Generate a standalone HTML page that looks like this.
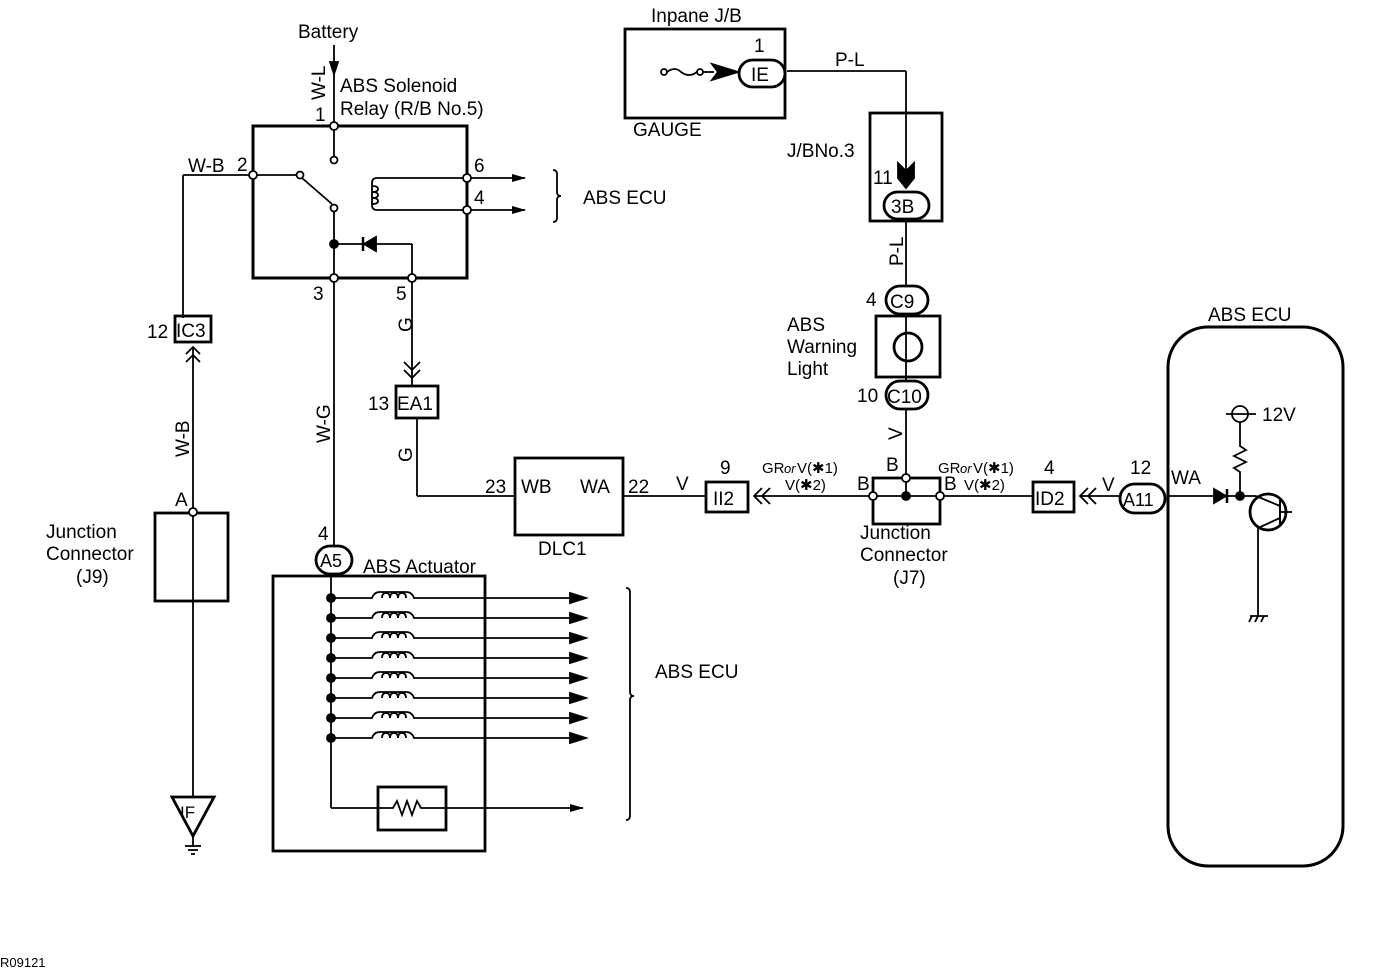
<!DOCTYPE html>
<html><head><meta charset="utf-8"><style>
html,body{margin:0;padding:0;background:#fff;}
svg{display:block;}
text{font-family:"Liberation Sans",sans-serif;fill:#000;}
</style></head><body>
<svg width="1376" height="970" viewBox="0 0 1376 970" xmlns="http://www.w3.org/2000/svg">
<defs>
<marker id="ar" markerWidth="14" markerHeight="10" refX="13" refY="5" orient="auto" markerUnits="userSpaceOnUse"><path d="M0,1 L14,5 L0,9 Z" fill="#000"/></marker>
</defs>
<g stroke="#000" fill="none" stroke-width="1.8">
<line x1="334" y1="45" x2="334" y2="122"/>
<path d="M330,62 L334,74 L338,62 Z" fill="#000"/>
<rect x="253" y="126" width="214" height="152" stroke-width="3"/>
<line x1="334" y1="130" x2="334" y2="156"/>
<circle cx="334" cy="160" r="3.5" fill="#fff"/>
<line x1="257" y1="175" x2="296" y2="175"/>
<circle cx="300" cy="175" r="3.5" fill="#fff"/>
<line x1="302" y1="178" x2="332" y2="204"/>
<circle cx="334" cy="208" r="3.5" fill="#fff"/>
<line x1="334" y1="212" x2="334" y2="274"/>
<circle cx="334" cy="244" r="4" fill="#000"/>
<line x1="334" y1="244" x2="412" y2="244"/>
<path d="M364,244 L376,237 L376,251 Z" fill="#000"/>
<line x1="363" y1="237" x2="363" y2="251" stroke-width="2.5"/>
<line x1="412" y1="244" x2="412" y2="274"/>
<path d="M463,178 L377,178 Q372,178 372,183 L372,205 Q372,210 377,210 L463,210"/>
<path d="M372,186 q6,0 6,3 q0,3 -6,3 q6,0 6,3 q0,3 -6,3 q6,0 6,3 q0,3 -6,3"/>
<line x1="471" y1="178" x2="525" y2="178" marker-end="url(#ar)"/>
<line x1="471" y1="210" x2="525" y2="210" marker-end="url(#ar)"/>
<path d="M553,170 q4,0 4,4 v18 q0,4 4,4 q-4,0 -4,4 v18 q0,4 -4,4"/>
<g fill="#fff">
<circle cx="334" cy="126" r="4"/><circle cx="253" cy="175" r="4"/>
<circle cx="467" cy="178" r="4"/><circle cx="467" cy="210" r="4"/>
<circle cx="334" cy="278" r="4"/><circle cx="412" cy="278" r="4"/>
</g>
<line x1="249" y1="175" x2="183" y2="175"/>
<line x1="183" y1="175" x2="183" y2="318"/>
<rect x="175" y="316" width="36" height="26" stroke-width="2.8"/>
<path d="M186,354 L193,347 L200,354 M186,362 L193,355 L200,362"/>
<line x1="193" y1="348" x2="193" y2="508"/>
<rect x="155" y="513" width="73" height="88" stroke-width="2.8"/>
<line x1="193" y1="516" x2="193" y2="797"/>
<circle cx="193" cy="512" r="4" fill="#fff"/>
<path d="M172,797 L214,797 L193,836 Z" stroke-width="2.8"/>
<line x1="193" y1="836" x2="193" y2="846"/>
<line x1="185" y1="846" x2="201" y2="846"/><line x1="188" y1="850" x2="198" y2="850"/><line x1="191" y1="854" x2="195" y2="854"/>
<line x1="334" y1="282" x2="334" y2="546"/>
<rect x="316" y="546" width="36" height="28" rx="14" stroke-width="2.8"/>
<rect x="273" y="576" width="212" height="275" stroke-width="2.8"/>
<line x1="331" y1="574" x2="331" y2="808"/>
<line x1="331" y1="808" x2="378" y2="808"/>
<rect x="378" y="787" width="68" height="43" stroke-width="2.8"/>
<path d="M378,808 L393,808 L397,801 L402,815 L407,801 L412,815 L417,801 L421,808 L446,808"/>
<line x1="446" y1="808" x2="583" y2="808" marker-end="url(#ar)"/>
<path d="M626,588 q4,0 4,4 v100 q0,4 4,4 q-4,0 -4,4 v116 q0,4 -4,4"/>
<line x1="412" y1="282" x2="412" y2="386"/>
<path d="M404,362 L412,370 L420,362 M404,370 L412,378 L420,370"/>
<rect x="396" y="386" width="42" height="32" stroke-width="2.8"/>
<line x1="417" y1="418" x2="417" y2="496"/>
<line x1="417" y1="496" x2="515" y2="496"/>
<rect x="515" y="458" width="108" height="77" stroke-width="2.8"/>
<line x1="623" y1="496" x2="706" y2="496"/>
<rect x="706" y="482" width="42" height="30" stroke-width="2.8"/>
<path d="M762,488 L754,496 L762,504 M770,488 L762,496 L770,504"/>
<line x1="754" y1="496" x2="870" y2="496"/>
<rect x="873" y="478" width="67" height="46" stroke-width="2.8"/>
<line x1="877" y1="496" x2="936" y2="496"/>
<line x1="906" y1="478" x2="906" y2="496"/>
<circle cx="906" cy="496" r="4" fill="#000"/>
<circle cx="873" cy="496" r="4" fill="#fff"/><circle cx="940" cy="496" r="4" fill="#fff"/>
<line x1="906" y1="408" x2="906" y2="474"/>
<circle cx="906" cy="478" r="4" fill="#fff"/>
<line x1="944" y1="496" x2="1033" y2="496"/>
<rect x="1033" y="482" width="41" height="30" stroke-width="2.8"/>
<path d="M1088,488 L1080,496 L1088,504 M1096,488 L1088,496 L1096,504"/>
<line x1="1080" y1="496" x2="1120" y2="496"/>
<rect x="1120" y="484" width="45" height="29" rx="14.5" stroke-width="2.8"/>
<rect x="1168" y="327" width="175" height="539" rx="40" stroke-width="3"/>
<line x1="1168" y1="496" x2="1240" y2="496"/>
<path d="M1214,489 L1226,496 L1214,503 Z" fill="#000"/>
<line x1="1227" y1="489" x2="1227" y2="503" stroke-width="2.5"/>
<circle cx="1240" cy="496" r="4" fill="#000"/>
<line x1="1240" y1="496" x2="1256" y2="496"/>
<circle cx="1268" cy="512" r="18" stroke-width="2.8"/>
<line x1="1280" y1="500" x2="1280" y2="524" stroke-width="2"/>
<line x1="1280" y1="512" x2="1292" y2="512"/>
<line x1="1256" y1="496" x2="1280" y2="506"/>
<line x1="1280" y1="518" x2="1258" y2="528"/>
<line x1="1258" y1="528" x2="1258" y2="616"/>
<line x1="1250" y1="616" x2="1268" y2="616"/>
<path d="M1252,616 l-3,6 M1258,616 l-3,6 M1264,616 l-3,6"/>
<line x1="1240" y1="496" x2="1240" y2="478"/>
<path d="M1240,478 L1240,472 L1234,468 L1246,462 L1234,456 L1246,450 L1240,446 L1240,422"/>
<circle cx="1240" cy="414" r="8"/>
<line x1="1226" y1="414" x2="1256" y2="414"/>
<rect x="625" y="29" width="160" height="89" stroke-width="2.8"/>
<circle cx="664" cy="72" r="3"/><circle cx="700" cy="72" r="3"/>
<path d="M667,72 q8,-6 14,0 q8,6 16,0"/>
<line x1="703" y1="72" x2="714" y2="72"/>
<path d="M712,64 L738,72 L712,80 L718,72 Z" fill="#000"/>
<rect x="739" y="60" width="46" height="27" rx="13.5" stroke-width="2.8"/>
<line x1="787" y1="71" x2="906" y2="71"/>
<line x1="906" y1="71" x2="906" y2="186"/>
<rect x="870" y="113" width="72" height="108" stroke-width="2.8"/>
<path d="M898,163 L906,171 L914,163 L914,178 L906,188 L898,178 Z" fill="#000"/>
<rect x="884" y="192" width="45" height="27" rx="13.5" stroke-width="2.8"/>
<line x1="906" y1="221" x2="906" y2="285"/>
<rect x="886" y="286" width="42" height="28" rx="14" stroke-width="2.8"/>
<rect x="876" y="316" width="64" height="61" stroke-width="2.8"/>
<line x1="906" y1="314" x2="906" y2="382"/>
<circle cx="908" cy="347" r="14" stroke-width="2.8"/>
<rect x="886" y="381" width="42" height="28" rx="14" stroke-width="2.8"/>
</g>
<g stroke="#000" fill="none" stroke-width="1.8">
<g id="row">
<circle cx="331" cy="598" r="4" fill="#000"/>
<path d="M331,598 L372,598 q2,-6 8,-6 h26 q6,0 8,6 L583,598"/>
<path d="M382,598 q0,-5 4,-5 q4,0 4,5 q0,-5 4,-5 q4,0 4,5 q0,-5 4,-5 q4,0 4,5"/>
<path d="M570,593 L586,598 L570,603 Z" fill="#000"/>
</g>
<use href="#row" y="20"/><use href="#row" y="40"/><use href="#row" y="60"/>
<use href="#row" y="80"/><use href="#row" y="100"/><use href="#row" y="120"/><use href="#row" y="140"/>
</g>
<g font-size="19">
<text x="298" y="38">Battery</text>
<text x="340" y="92">ABS Solenoid</text>
<text x="340" y="115">Relay  (R/B No.5)</text>
<text x="315" y="121">1</text>
<text x="237" y="171">2</text>
<text x="188" y="172">W-B</text>
<text x="474" y="172">6</text>
<text x="474" y="204">4</text>
<text x="583" y="204">ABS ECU</text>
<text x="313" y="300">3</text>
<text x="396" y="300">5</text>
<text x="147" y="338">12</text>
<text x="176" y="337" font-size="19">IC3</text>
<text x="175" y="506">A</text>
<text x="46" y="538">Junction</text>
<text x="46" y="560">Connector</text>
<text x="76" y="583">(J9)</text>
<text x="180" y="818" font-size="17">IF</text>
<text x="368" y="410">13</text>
<text x="397" y="410" font-size="19">EA1</text>
<text x="318" y="540">4</text>
<text x="320" y="567" font-size="18">A5</text>
<text x="363" y="573">ABS Actuator</text>
<text x="655" y="678">ABS ECU</text>
<text x="485" y="493">23</text>
<text x="521" y="493">WB</text>
<text x="580" y="493">WA</text>
<text x="628" y="493">22</text>
<text x="676" y="490">V</text>
<text x="538" y="555">DLC1</text>
<text x="720" y="474">9</text>
<text x="713" y="505" font-size="19">II2</text>
<text x="762" y="473" font-size="15">GR</text><text x="784" y="473" font-size="13" font-style="italic">or</text><text x="797" y="473" font-size="15">V(✱1)</text>
<text x="785" y="490" font-size="15">V(✱2)</text>
<text x="857" y="490">B</text>
<text x="886" y="471">B</text>
<text x="944" y="490">B</text>
<text x="938" y="473" font-size="15">GR</text><text x="960" y="473" font-size="13" font-style="italic">or</text><text x="973" y="473" font-size="15">V(✱1)</text>
<text x="964" y="490" font-size="15">V(✱2)</text>
<text x="860" y="539">Junction</text>
<text x="860" y="561">Connector</text>
<text x="893" y="584">(J7)</text>
<text x="1044" y="474">4</text>
<text x="1035" y="505" font-size="19">ID2</text>
<text x="1102" y="491">V</text>
<text x="1130" y="474">12</text>
<text x="1123" y="506" font-size="18">A11</text>
<text x="1171" y="484">WA</text>
<text x="1208" y="321">ABS ECU</text>
<text x="1262" y="421">12V</text>
<text x="651" y="22">Inpane J/B</text>
<text x="754" y="52">1</text>
<text x="751" y="81" font-size="19">IE</text>
<text x="835" y="66">P-L</text>
<text x="633" y="136">GAUGE</text>
<text x="787" y="157">J/BNo.3</text>
<text x="873" y="184">11</text>
<text x="891" y="213" font-size="19">3B</text>
<text x="866" y="306">4</text>
<text x="890" y="308" font-size="19">C9</text>
<text x="787" y="331">ABS</text>
<text x="787" y="353">Warning</text>
<text x="787" y="375">Light</text>
<text x="857" y="402">10</text>
<text x="887" y="403" font-size="19">C10</text>
<text x="0" y="967" font-size="13">R09121</text>
</g>
<g font-size="19">
<text transform="translate(325,100) rotate(-90)">W-L</text>
<text transform="translate(189,457) rotate(-90)">W-B</text>
<text transform="translate(330,443) rotate(-90)">W-G</text>
<text transform="translate(412,332) rotate(-90)">G</text>
<text transform="translate(412,462) rotate(-90)">G</text>
<text transform="translate(903,266) rotate(-90)">P-L</text>
<text transform="translate(902,440) rotate(-90)">V</text>
</g>
</svg>
</body></html>
